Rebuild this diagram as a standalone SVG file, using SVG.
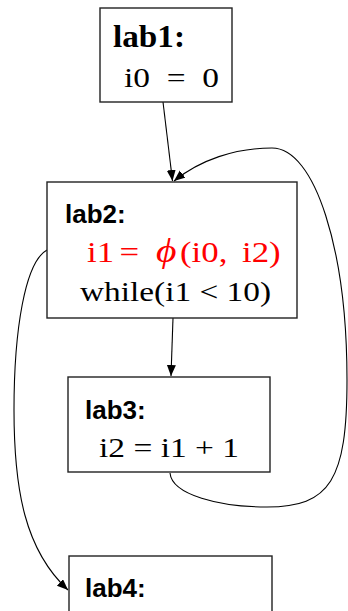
<svg xmlns="http://www.w3.org/2000/svg" width="348" height="611" viewBox="0 0 348 611">
<style>
.box{fill:#fff;stroke:#222;stroke-width:1.4}
.lab{font-family:"Liberation Sans",Arial,sans-serif;font-weight:bold;font-size:26px;fill:#000}
.ser{font-family:"Liberation Serif","Times New Roman",serif;font-size:28px;fill:#000;white-space:pre}
.red{fill:#f00;font-size:29px}
.edge{fill:none;stroke:#000;stroke-width:1.1}
</style>
<defs>
<marker id="ah" markerUnits="userSpaceOnUse" markerWidth="12" markerHeight="10" refX="11" refY="4.5" orient="auto">
<path d="M0,0 L11,4.5 L0,9 z" fill="#000"/>
</marker>
</defs>
<rect width="348" height="611" fill="#fff"/>
<g id="connectors">
<path class="edge" d="M163,102 L172.5,181" marker-end="url(#ah)"/>
<path class="edge" d="M173,318 L171,376" marker-end="url(#ah)"/>
<path class="edge" d="M170,473 C172,495 220,507 267,507 C330,507 347,480 347,380 C347,250 315,148 272,148 C235,148 200,160 174,181" marker-end="url(#ah)"/>
<path class="edge" d="M47,250 C25,262 14,330 14,410 C14,490 25,550 68,590" marker-end="url(#ah)"/>
</g>
<g id="lab1">
<rect class="box" x="100" y="8" width="132" height="94"/>
<text x="113" y="47" font-family="'Liberation Serif','Times New Roman',serif" font-weight="bold" font-size="32" textLength="72" lengthAdjust="spacingAndGlyphs">lab1:</text>
<text class="ser" x="124" y="87" textLength="95" lengthAdjust="spacingAndGlyphs">i0  =  0</text>
</g>
<g id="lab2">
<rect class="box" x="47" y="182" width="250" height="136"/>
<text class="lab" x="65" y="223">lab2:</text>
<text class="ser red" transform="translate(0,262) scale(1.2,1)"><tspan x="72.5">i1</tspan><tspan x="99.5">=</tspan><tspan x="130" font-style="italic" font-size="33">ϕ</tspan><tspan x="150">(i0,</tspan><tspan x="201.7">i2)</tspan></text>
<text class="ser" x="80" y="301" textLength="191" lengthAdjust="spacingAndGlyphs">while(i1 &lt; 10)</text>
</g>
<g id="lab3">
<rect class="box" x="68" y="377" width="202" height="95"/>
<text class="lab" x="85" y="419">lab3:</text>
<text class="ser" x="99" y="457" textLength="140" lengthAdjust="spacingAndGlyphs">i2 = i1 + 1</text>
</g>
<g id="lab4">
<rect class="box" x="69" y="556" width="203" height="80"/>
<text class="lab" x="85" y="597">lab4:</text>
</g>
</svg>
